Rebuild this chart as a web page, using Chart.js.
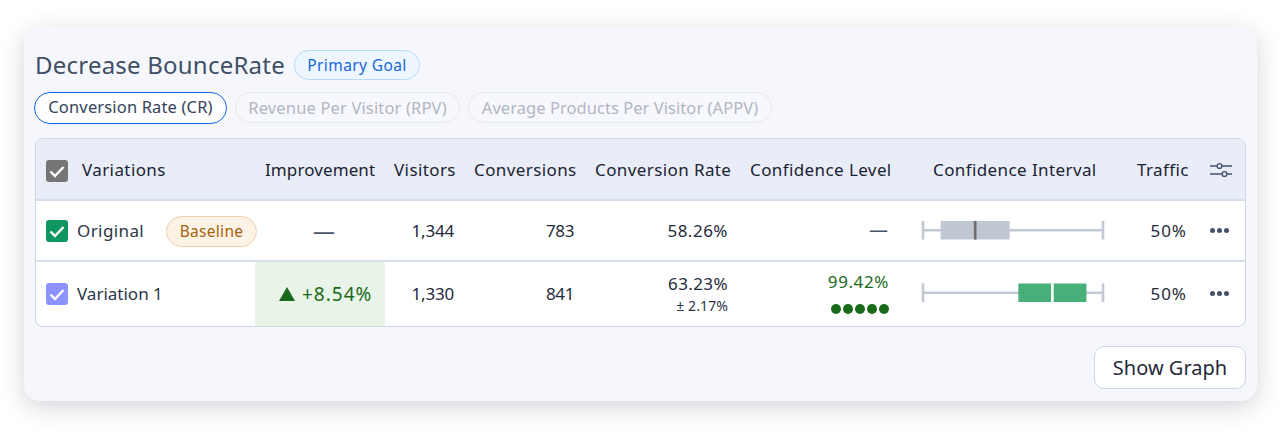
<!DOCTYPE html>
<html>
<head>
<meta charset="utf-8">
<script src="https://cdn.jsdelivr.net/npm/chart.js@4"></script>
<style>
  html, body { margin: 0; padding: 0; background: #fff; }
  body { width: 1280px; height: 436px; overflow: hidden; position: relative; font-family: "Noto Sans", sans-serif; color: #1f2a3c; }
  #card { position: absolute; left: 24px; top: 27px; width: 1233px; height: 374px; background: #f6f7fd; border-radius: 16px; box-shadow: 0 6px 24px rgba(40,45,60,.2); }
  #table { position: absolute; left: 35px; top: 138px; width: 1209px; height: 187px; background: #fff; border: 1px solid #cdd7e6; border-radius: 8px; overflow: hidden; }
  #head { position: absolute; left: 0; top: 0; width: 100%; height: 62px; background: #e9edf8; border-bottom: 2px solid #d6dfec; box-sizing: border-box; }
  #sep { position: absolute; left: 0; top: 121px; width: 100%; height: 2px; background: #d6dfec; }
  #lift { position: absolute; left: 219px; top: 123px; width: 130px; height: 64px; background: #e8f4e8; }
  .t { position: absolute; white-space: nowrap; line-height: 1; }
  .r { transform: translateX(-100%); }
  .c { transform: translateX(-50%); }
  .pill { position: absolute; box-sizing: border-box; border-radius: 16px; text-align: center; white-space: nowrap; }
  .box { position: absolute; width: 22px; height: 22px; border-radius: 3px; }
  .box svg { display: block; }
  #ci { position: absolute; left: 919px; top: 199px; width: 188px; height: 125px; }
  #btn { position: absolute; left: 1094px; top: 346px; width: 152px; height: 43px; box-sizing: border-box; background: #fff; border: 1px solid #cdd7e6; border-radius: 10px; text-align: center; font-size: 20px; line-height: 41px; color: #1f2a3c; }
  .dot { position: absolute; width: 10px; height: 10px; border-radius: 5px; background: #1b691b; }
  .more { position: absolute; width: 5px; height: 5px; border-radius: 3px; background: #42526b; }
</style>
</head>
<body>
<div id="card"></div>
<div id="table"><div id="head"></div><div id="sep"></div><div id="lift"></div></div>
<div id="ui"></div>
<div id="btn">Show Graph</div>
<div id="ci"><canvas id="ciChart"></canvas></div>
<script>
const goalTitle = 'Decrease BounceRate';
const goalTag = 'Primary Goal';
const metricTabs = ['Conversion Rate (CR)', 'Revenue Per Visitor (RPV)', 'Average Products Per Visitor (APPV)'];
const columns = ['Variations', 'Improvement', 'Visitors', 'Conversions', 'Conversion Rate', 'Confidence Level', 'Confidence Interval', 'Traffic'];

const variations = ['Original', 'Variation 1'];
const baselineTag = 'Baseline';
const improvement = ['—', '+8.54%'];
const visitors = ['1,344', '1,330'];
const conversions = ['783', '841'];
const rates = ['58.26%', '63.23%'];
const margin = ['', '± 2.17%'];
const confidence = ['—', '99.42%'];
const traffic = ['50%', '50%'];

// confidence interval, in % conversion rate
const axisMin = 54.9;
const axisMax = 66.49;
const whiskerLow = [54.9, 54.9];
const whiskerHigh = [66.49, 66.49];
const boxLow = [56.06, 61.06];
const boxHigh = [60.46, 65.4];
const medians = [58.26, 63.23];

const ui = document.getElementById('ui');

function text(str, x, y, size, color, align, spacing) {
  const el = document.createElement('div');
  el.className = 't' + (align ? ' ' + align : '');
  el.textContent = str;
  el.style.left = x + 'px';
  el.style.top = y + 'px';
  el.style.fontSize = size + 'px';
  if (color) el.style.color = color;
  if (spacing) el.style.letterSpacing = spacing + 'px';
  ui.appendChild(el);
  return el;
}

function pill(str, x, y, w, h, size, color, border, bg, bw, spacing) {
  const el = document.createElement('div');
  el.className = 'pill';
  el.textContent = str;
  el.style.cssText = `left:${x}px;top:${y}px;width:${w}px;height:${h}px;font-size:${size}px;line-height:${h - 2 * (bw || 1)}px;color:${color};border:${bw || 1}px solid ${border};background:${bg};letter-spacing:${spacing || 0}px`;
  ui.appendChild(el);
}

function checkbox(x, y, color) {
  const el = document.createElement('div');
  el.className = 'box';
  el.style.left = x + 'px';
  el.style.top = y + 'px';
  el.style.background = color;
  el.innerHTML = '<svg width="22" height="22"><path d="M4.5 11.5l4.5 4.5 8.5-9" fill="none" stroke="#fff" stroke-width="2.4"/></svg>';
  ui.appendChild(el);
}

text(goalTitle, 35, 53, 24, '#3f4f66', null, 0.22);
pill(goalTag, 294, 50, 126, 30, 15.5, '#1666e0', '#b5dcf8', '#eef7ff', 1, 0.4);

pill(metricTabs[0], 34, 92, 193, 31.5, 16.5, '#34435a', '#1a66f0', '#fff', 1.5, 0.15);
pill(metricTabs[1], 235, 92, 225, 31, 16.5, '#b1b6c2', '#e6e8f0', '#f7f8fd', 1, 0.15);
pill(metricTabs[2], 468, 92, 304, 31, 16.5, '#b1b6c2', '#e6e8f0', '#f7f8fd', 1, 0.05);

// header row
const headX = [82, 265, 394, 474, 595, 750, 933, 1137];
checkbox(45.5, 160, '#757575');
columns.forEach((c, i) => text(c, headX[i], 161, 17, '#1a2333', null, i === 1 ? 0.1 : 0.4));
const sliders = document.createElement('div');
sliders.style.cssText = 'position:absolute;left:1210px;top:162px';
sliders.innerHTML = '<svg width="22" height="17" fill="none" stroke="#42526b" stroke-width="1.4"><path d="M0 4h7M12 4h10M0 12h12M17 12h5"/><circle cx="9.5" cy="4" r="2.4"/><circle cx="14.5" cy="12" r="2.4"/></svg>';
ui.appendChild(sliders);

// rows
const rowY = [232, 295];
const boxColors = ['#0e9660', '#8c92ff'];
variations.forEach((name, i) => {
  const y = rowY[i];
  checkbox(45.5, i ? 283 : 220, boxColors[i]);
  text(name, 77, y - 10, 17, '#2b3648', null, i ? 0 : 0.4);
  if (i === 0) {
    pill(baselineTag, 166, 216, 91, 31, 15.5, '#a5640f', '#f0cfae', '#fdf2e6', 1, 0.3);
    text(improvement[i], 324, y - 13, 22, '#4a5568', 'c');
    text(confidence[i], 888, y - 11, 19, '#4a5568', 'r');
    text(rates[i], 728, y - 10, 17, null, 'r', 0.5);
  } else {
    const tri = document.createElement('div');
    tri.style.cssText = `position:absolute;left:279px;top:${y - 8}px;width:0;height:0;border-left:8px solid transparent;border-right:8px solid transparent;border-bottom:14px solid #1b691b`;
    ui.appendChild(tri);
    text(improvement[i], 302, y - 10, 19, '#1b691b', null, 1);
    text(rates[i], 728, y - 20, 17, null, 'r', 0.4);
    text(margin[i], 728, y + 4, 14, '#2b3648', 'r', 0.1);
    text(confidence[i], 889, y - 22, 17, '#1b691b', 'r', 0.6);
    for (let d = 0; d < 5; d++) {
      const dot = document.createElement('div');
      dot.className = 'dot';
      dot.style.left = (831 + d * 12) + 'px';
      dot.style.top = (y + 9) + 'px';
      ui.appendChild(dot);
    }
  }
  text(visitors[i], 454, y - 10, 17, null, 'r', -0.2);
  text(conversions[i], 574, y - 10, 17, null, 'r', -0.4);
  text(traffic[i], 1187, y - 10, 17, null, 'r', 1);
  for (let d = 0; d < 3; d++) {
    const dot = document.createElement('div');
    dot.className = 'more';
    dot.style.left = (1210 + d * 7.2) + 'px';
    dot.style.top = (y - 4) + 'px';
    ui.appendChild(dot);
  }
});

// half width of the thin marks, in axis units
const tick = 0.065;
const around = v => [v - tick, v + tick];

new Chart(document.getElementById('ciChart'), {
  type: 'bar',
  data: {
    labels: variations,
    datasets: [
      { label: 'range', data: whiskerLow.map((v, i) => [v, whiskerHigh[i]]), backgroundColor: '#c3c9d4', barThickness: 2, grouped: false, order: 5 },
      { label: 'low cap', data: whiskerLow.map(around), backgroundColor: '#c3c9d4', barThickness: 18, grouped: false, order: 4 },
      { label: 'high cap', data: whiskerHigh.map(around), backgroundColor: '#c3c9d4', barThickness: 18, grouped: false, order: 3 },
      { label: 'interval', data: boxLow.map((v, i) => [v, boxHigh[i]]), backgroundColor: ['#c1c7d2', '#46b078'], barThickness: 18, grouped: false, order: 2 },
      { label: 'rate', data: medians.map(around), backgroundColor: ['#6e6e6e', '#ffffff'], barThickness: 18, grouped: false, order: 1 }
    ]
  },
  options: {
    indexAxis: 'y',
    responsive: true,
    maintainAspectRatio: false,
    animation: false,
    layout: { padding: { left: 4, right: 4, top: 0, bottom: 0 } },
    plugins: { legend: { display: false }, tooltip: { enabled: false } },
    scales: {
      x: { min: axisMin, max: axisMax, display: false },
      y: { display: false }
    },
    datasets: { bar: { clip: false } }
  }
});
</script>
</body>
</html>
